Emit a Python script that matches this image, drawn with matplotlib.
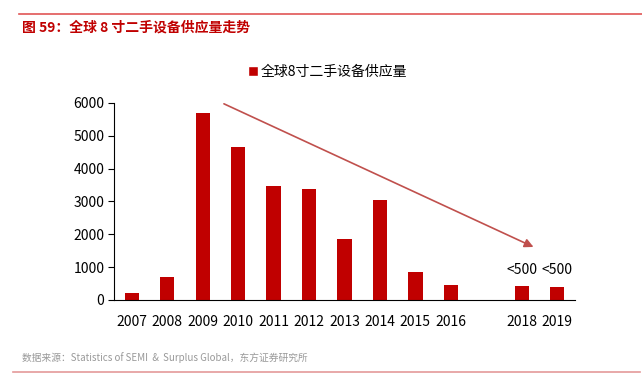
import matplotlib
matplotlib.use("Agg")
import matplotlib.pyplot as plt
from matplotlib.lines import Line2D

plt.rcParams['font.family'] = ['Noto Sans CJK SC', 'DejaVu Sans']

# data (2017 is left blank)
years = ['2007', '2008', '2009', '2010', '2011', '2012', '2013',
         '2014', '2015', '2016', '', '2018', '2019']
supply = [200, 690, 5700, 4660, 3470, 3370, 1870,
          3060, 860, 455, 0, 440, 390]
notes = {11: '<500', 12: '<500'}

bar_red = '#C00000'

fig = plt.figure(figsize=(6.42, 3.84), dpi=100)
ax = fig.add_axes([0.1776, 0.2188, 0.718, 0.513])

x = list(range(len(years)))
ax.bar(x, supply, width=0.4, color=bar_red, label='全球8寸二手设备供应量')

ax.set_xlim(-0.5, len(years) - 0.5)
ax.set_ylim(0, 6000)
ax.set_yticks(range(0, 6001, 1000))
ax.set_xticks(x)
ax.set_xticklabels(years)
ax.tick_params(axis='x', length=0, pad=11, labelsize=10, colors='#000000')
ax.tick_params(axis='y', length=4, width=0.8, pad=3, labelsize=10, colors='#000000')
for s in ['top', 'right']:
    ax.spines[s].set_visible(False)
ax.spines['left'].set_color('#000000')
ax.spines['bottom'].set_color('#000000')
ax.spines['left'].set_linewidth(0.8)
ax.spines['bottom'].set_linewidth(0.8)

for i, t in notes.items():
    ax.text(i, 700, t, ha='center', va='bottom', fontsize=10)

# downward trend arrow
ax.annotate('', xy=(11.33, 1615), xytext=(2.6, 5975),
            arrowprops=dict(arrowstyle='-|>', color='#C0504D', lw=1.2,
                            mutation_scale=13, shrinkA=0, shrinkB=0))

handles = [Line2D([0], [0], marker='s', color='w', markerfacecolor=bar_red,
                  markersize=7, linestyle='')]
fig.legend(handles, ['全球8寸二手设备供应量'], loc='center',
           bbox_to_anchor=(0.51, 0.812), frameon=False, fontsize=10,
           handletextpad=0.1, handlelength=0.8)

# header and footer
fig.add_artist(Line2D([19 / 642, 1.0], [1 - 14 / 384] * 2, color='#E05555', lw=1.2))
fig.text(22 / 642, 1 - 28 / 384, '图 59：全球 8 寸二手设备供应量走势', color='#C00000',
         fontsize=10, fontweight='bold', va='center', ha='left')
fig.text(22 / 642, 1 - 358 / 384,
         '数据来源：Statistics of SEMI  &  Surplus Global，东方证券研究所',
         color='#999999', fontsize=7, va='center', ha='left')
fig.add_artist(Line2D([13 / 642, 640 / 642], [1 - 372 / 384] * 2, color='#E49A9A', lw=1.2))

fig.savefig('out.png', dpi=100)
